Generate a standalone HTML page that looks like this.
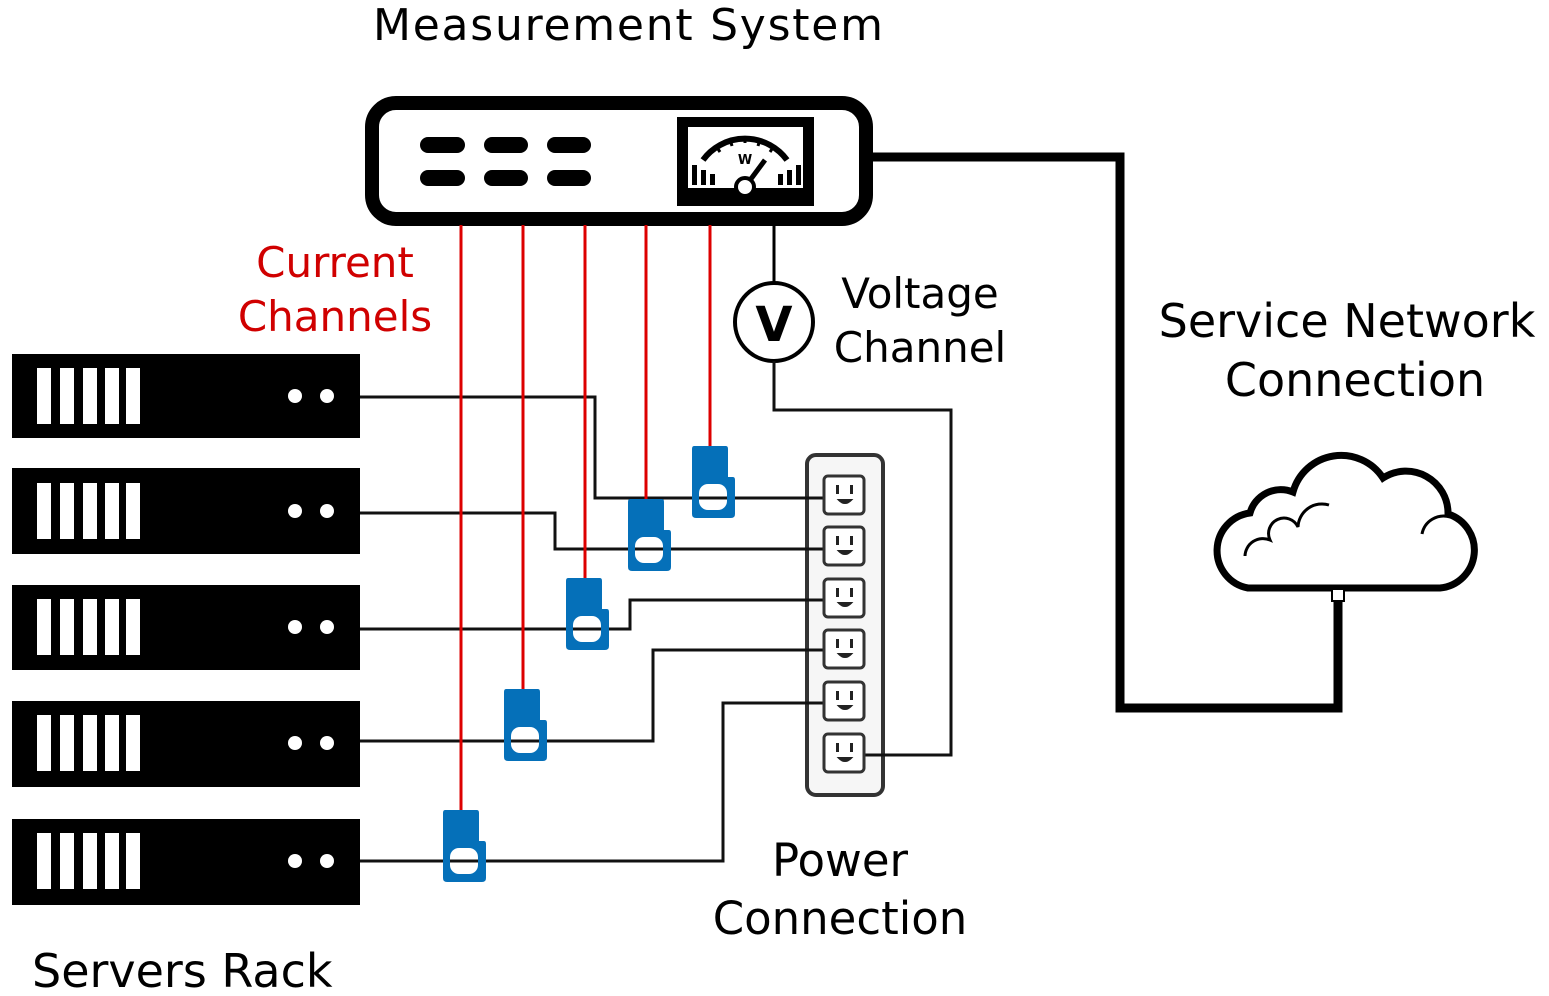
<!DOCTYPE html>
<html><head><meta charset="utf-8"><style>
html,body{margin:0;padding:0;background:#fff;}
svg{display:block;}
text{font-family:"DejaVu Sans","Liberation Sans",sans-serif;}
</style></head><body>
<svg width="1549" height="996" viewBox="0 0 1549 996" xmlns="http://www.w3.org/2000/svg">
<!-- titles -->
<text x="373" y="40" font-size="44" textLength="510" fill="#000">Measurement System</text>
<text x="335" y="277" font-size="42" fill="#d00000" text-anchor="middle">Current</text>
<text x="335" y="331" font-size="42" fill="#d00000" text-anchor="middle">Channels</text>
<text x="920" y="308" font-size="42" fill="#000" text-anchor="middle">Voltage</text>
<text x="920" y="362" font-size="42" fill="#000" text-anchor="middle">Channel</text>
<text x="1347" y="337" font-size="46" fill="#000" text-anchor="middle">Service Network</text>
<text x="1355" y="396" font-size="46" fill="#000" text-anchor="middle">Connection</text>
<text x="840" y="876" font-size="45" fill="#000" text-anchor="middle">Power</text>
<text x="840" y="934" font-size="45" fill="#000" text-anchor="middle">Connection</text>
<text x="32" y="987" font-size="46" fill="#000">Servers Rack</text>

<!-- network line -->
<polyline points="873,157 1120,157 1120,708 1338,708 1338,595" fill="none" stroke="#000" stroke-width="9"/>
<!-- cloud -->
<path d="M1248,588 H1440 A38,38 0 0 0 1448,514 A42,42 0 0 0 1383,478 A50,50 0 0 0 1293,492 A32,32 0 0 0 1250,513 A38,38 0 0 0 1248,588 Z" fill="#fff" stroke="#000" stroke-width="7"/>
<path d="M1245,556 A18,18 0 0 1 1270,540 A15,15 0 0 1 1298,527 A24,24 0 0 1 1329,505" fill="none" stroke="#000" stroke-width="3"/>
<path d="M1422,534 A22,22 0 0 1 1450,517" fill="none" stroke="#000" stroke-width="3"/>
<rect x="1332" y="589" width="12" height="12" fill="#fff" stroke="#000" stroke-width="2"/>

<!-- measurement box -->
<rect x="372" y="103" width="494" height="116" rx="24" fill="#fff" stroke="#000" stroke-width="14"/>
<g fill="#000">
<rect x="420" y="137" width="45" height="16" rx="8"/><rect x="484" y="137" width="44" height="16" rx="8"/><rect x="547" y="137" width="44" height="16" rx="8"/>
<rect x="420" y="170" width="45" height="16" rx="8"/><rect x="484" y="170" width="44" height="16" rx="8"/><rect x="547" y="170" width="44" height="16" rx="8"/>
<rect x="677" y="117" width="137" height="89"/>
</g>
<rect x="688" y="127" width="115" height="61" fill="#fff"/>
<path d="M703,160 A52,52 0 0 1 787,160" fill="none" stroke="#000" stroke-width="6"/>
<g stroke="#000" stroke-width="3">
<line x1="716" y1="146" x2="720" y2="152"/><line x1="730" y1="139" x2="732" y2="146"/><line x1="745" y1="136" x2="745" y2="143"/><line x1="760" y1="139" x2="758" y2="146"/><line x1="774" y1="146" x2="770" y2="152"/>
</g>
<g fill="#000">
<rect x="692" y="165" width="5" height="20"/><rect x="701" y="170" width="5" height="15"/><rect x="710" y="174" width="5" height="11"/>
<rect x="778" y="174" width="5" height="11"/><rect x="787" y="170" width="5" height="15"/><rect x="796" y="165" width="5" height="20"/>
</g>
<text x="745" y="164" font-size="13" font-weight="bold" text-anchor="middle">W</text>
<line x1="745" y1="187" x2="765" y2="160" stroke="#000" stroke-width="5"/>
<circle cx="745" cy="187" r="9" fill="#fff" stroke="#000" stroke-width="4"/>

<!-- voltage -->
<line x1="774" y1="225" x2="774" y2="284" stroke="#000" stroke-width="3"/>
<circle cx="774" cy="322" r="39" fill="#fff" stroke="#000" stroke-width="4"/>
<text x="774" y="341" font-size="48" font-weight="bold" text-anchor="middle">V</text>

<!-- servers -->
<g fill="#000">
<rect x="12" y="354" width="348" height="84"/><rect x="12" y="468" width="348" height="86"/>
<rect x="12" y="585" width="348" height="85"/><rect x="12" y="701" width="348" height="86"/>
<rect x="12" y="819" width="348" height="86"/>
</g>
<g fill="#fff">
<g id="sv"><rect x="37" y="368" width="14" height="56"/><rect x="60" y="368" width="14" height="56"/><rect x="83" y="368" width="14" height="56"/><rect x="105" y="368" width="14" height="56"/><rect x="126" y="368" width="14" height="56"/><circle cx="295" cy="396" r="7"/><circle cx="327" cy="396" r="7"/></g>
<use href="#sv" y="115"/><use href="#sv" y="231"/><use href="#sv" y="347"/><use href="#sv" y="465"/>
</g>

<!-- power strip -->
<rect x="807" y="455" width="76" height="340" rx="9" fill="#f6f6f6" stroke="#333" stroke-width="4"/>

<!-- wires -->
<g fill="none" stroke="#111" stroke-width="3">
<polyline points="360,397 595,397 595,498 826,498"/>
<polyline points="360,513 555,513 555,549 826,549"/>
<polyline points="360,629 630,629 630,600 826,600"/>
<polyline points="360,741 653,741 653,650 826,650"/>
<polyline points="360,861 723,861 723,703 826,703"/>
<polyline points="774,361 774,410 951,410 951,755 862,755"/>
</g>

<g id="ol"><rect x="824" y="476" width="40" height="38" rx="4" fill="#fff" stroke="#333" stroke-width="3"/>
<rect x="836" y="485" width="3" height="9" fill="#222"/><rect x="850" y="485" width="3" height="9" fill="#222"/>
<path d="M839,500 H851 Q845,506 839,500 Z" fill="#222" stroke="#222" stroke-width="2"/></g>
<use href="#ol" y="51"/><use href="#ol" y="103"/><use href="#ol" y="154"/><use href="#ol" y="206"/><use href="#ol" y="258"/>

<!-- red lines -->
<g stroke="#dd0000" stroke-width="3">
<line x1="461" y1="225" x2="461" y2="880"/>
<line x1="523" y1="225" x2="523" y2="690"/>
<line x1="585" y1="225" x2="585" y2="580"/>
<line x1="646" y1="225" x2="646" y2="500"/>
<line x1="710" y1="225" x2="710" y2="447"/>
</g>

<!-- clamps -->
<g id="cl" fill="#0570b9">
<path d="M694,446 H726 Q728,446 728,449 V477 H733 Q735,477 735,480 V514 Q735,518 731,518 H696 Q692,518 692,514 V449 Q692,446 694,446 Z"/>
<rect x="699" y="484" width="28" height="26" rx="9" fill="#fff"/>
</g>
<use href="#cl" x="-64" y="53"/><use href="#cl" x="-126" y="132"/><use href="#cl" x="-188" y="243"/><use href="#cl" x="-249" y="364"/>
<!-- wires through clamps -->
<g stroke="#111" stroke-width="3">
<line x1="699" y1="498" x2="727" y2="498"/>
<line x1="635" y1="549" x2="663" y2="549"/>
<line x1="573" y1="629" x2="601" y2="629"/>
<line x1="511" y1="741" x2="539" y2="741"/>
<line x1="450" y1="861" x2="478" y2="861"/>
</g>
</svg>
</body></html>
